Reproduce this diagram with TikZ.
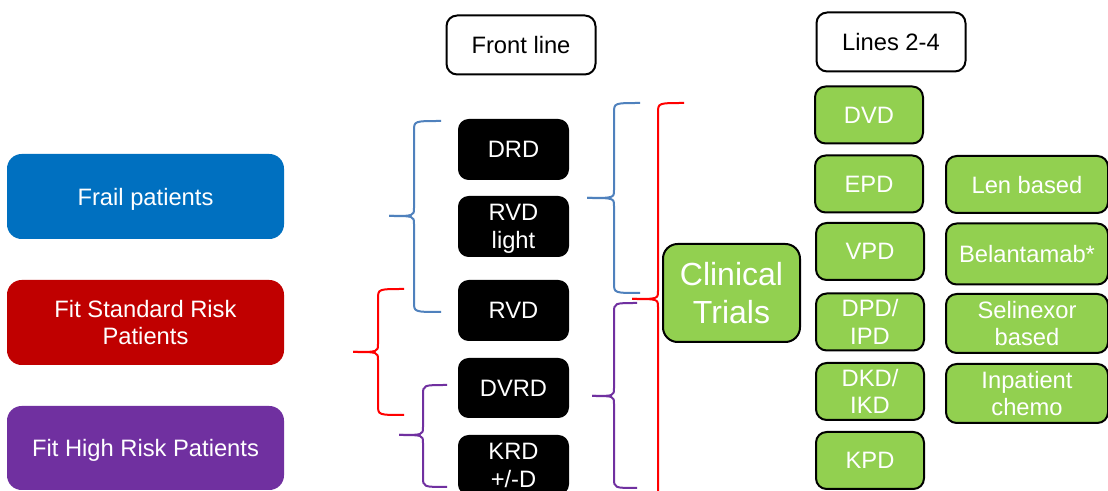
\documentclass[tikz,border=0pt]{standalone}
\usepackage{fontspec}
\setmainfont{Liberation Sans}
\definecolor{frailblue}{HTML}{0070C0}
\definecolor{stdred}{HTML}{C00000}
\definecolor{hipurple}{HTML}{7030A0}
\definecolor{trialgreen}{HTML}{92D050}
\definecolor{braceblue}{HTML}{4F81BD}
\definecolor{bracered}{HTML}{FF0000}
\newcommand{\mybrace}[7]{% color, endx, vx, tipx, top, tip, bottom
  \draw[bracestyle,#1] (#2,#5) .. controls (#3,#5) .. (#3,#5+10) -- (#3,#6-8) .. controls (#3,#6) .. (#4,#6);
  \draw[bracestyle,#1] (#4,#6) .. controls (#3,#6) .. (#3,#6+8) -- (#3,#7-10) .. controls (#3,#7) .. (#2,#7);
}
\begin{document}
\begin{tikzpicture}[x=0.75pt,y=-0.75pt,
  txt/.style={font=\fontsize{17.8pt}{20.8pt}\selectfont, align=center, inner sep=0pt, text depth=0pt},
  group/.style={txt, rounded corners=11pt, text=white, minimum width=277*0.75pt, minimum height=85*0.75pt},
  header/.style={txt, draw=black, line width=1.5pt, rounded corners=8pt, fill=white, minimum width=149*0.75pt, minimum height=59*0.75pt},
  regimen/.style={txt, fill=black, text=white, rounded corners=8pt, minimum width=111*0.75pt, minimum height=60*0.75pt},
  greenbox/.style={txt, fill=trialgreen, draw=black, line width=1.5pt, text=white, rounded corners=8pt, minimum width=108*0.75pt, minimum height=57*0.75pt},
  widegreen/.style={greenbox, minimum width=162*0.75pt},
  bracestyle/.style={line width=1.5pt}
]
\useasboundingbox (0,0) rectangle (1108,491);
\clip (0,0) rectangle (1108,491);
\fill[white] (0,0) rectangle (1108,491);

% patient groups
\node[group, fill=frailblue] (frail) at (145.5,196.5) {Frail patients};
\node[group, fill=stdred] (std) at (145.5,322.5) {Fit Standard Risk\\Patients};
\node[group, fill=hipurple, minimum height=84*0.75pt] (high) at (145.5,448) {Fit High Risk Patients};

% headers
\node[header] (front) at (521,45) {Front line};
\node[header] (lines) at (891,42) {Lines 2-4};

% front line regimens
\node[regimen, minimum height=61*0.75pt] (drd) at (513.5,149.5) {DRD};
\node[regimen, minimum height=61*0.75pt] (rvdl) at (513.5,226.5) {RVD\\light};
\node[regimen, minimum height=61*0.75pt] (rvd) at (513.5,310.5) {RVD};
\node[regimen] (dvrd) at (513.5,388) {DVRD};
\node[regimen] (krd) at (513.5,465) {KRD\\+/-D};

% clinical trials
\node[greenbox, font=\fontsize{24pt}{28.5pt}\selectfont, minimum width=137*0.75pt, minimum height=98*0.75pt, rounded corners=11pt] (trials) at (731.5,293) {Clinical\\Trials};

% lines 2-4 regimens
\node[greenbox] (dvd) at (869,115) {DVD};
\node[greenbox] (epd) at (869,184) {EPD};
\node[greenbox] (vpd) at (870,251.5) {VPD};
\node[greenbox] (dpd) at (870,322) {DPD/\\IPD};
\node[greenbox] (dkd) at (870,391.5) {DKD/\\IKD};
\node[greenbox] (kpd) at (870,460.5) {KPD};

\node[widegreen] (len) at (1027,184.5) {Len based};
\node[widegreen, minimum height=61*0.75pt] (bel) at (1027,254) {Belantamab*};
\node[widegreen, minimum height=59*0.75pt] (sel) at (1027,323.5) {Selinexor\\based};
\node[widegreen, minimum height=59*0.75pt] (inp) at (1027,393.5) {Inpatient\\chemo};

% braces (left of front line)
\mybrace{braceblue}{441}{414}{389}{121}{216}{312}
\mybrace{bracered}{404}{378}{353}{289}{352}{415}
\mybrace{hipurple}{447}{423}{399}{385}{435}{487}
% braces (right of front line)
\mybrace{braceblue}{640}{614}{587}{103}{198}{293}
\mybrace{hipurple}{637}{614}{592}{303}{396}{488}
\mybrace{bracered}{684}{658}{632}{103}{299}{500}
\end{tikzpicture}
\end{document}
